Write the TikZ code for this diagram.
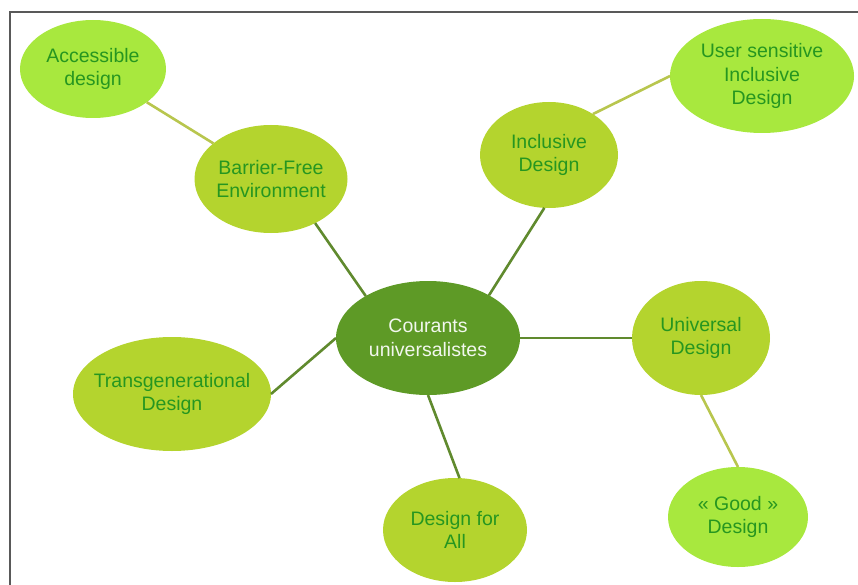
\documentclass[tikz,border=0pt]{standalone}
\usepackage{fontspec}
\setmainfont{Liberation Sans}
\usetikzlibrary{shapes.geometric}
\definecolor{leafgreen}{RGB}{168,232,62}
\definecolor{midgreen}{RGB}{180,212,46}
\definecolor{hubgreen}{RGB}{94,154,38}
\definecolor{labelgreen}{RGB}{38,150,32}
\definecolor{hubline}{RGB}{96,138,46}
\definecolor{leafline}{RGB}{184,198,78}
\tikzset{
    bubble/.style={ellipse, inner xsep=-30pt, inner ysep=0pt, outer sep=0pt, align=center, font=\fontsize{19.5}{23.5}\selectfont, text=labelgreen},
    hub/.style={bubble, fill=hubgreen, text=white!92!hubgreen, minimum width=184pt, minimum height=114pt},
    ring/.style={bubble, fill=midgreen},
    leaf/.style={bubble, fill=leafgreen},
    spoke/.style={line width=2.6pt, draw=hubline},
    twig/.style={line width=2.6pt, draw=leafline}
}
\begin{document}
\begin{tikzpicture}[x=1pt, y=-1pt]
  \useasboundingbox (0,0) rectangle (858,585);
  \draw[gray!70!black, line width=2pt] (10,585) -- (10,12) -- (858,12);
  \node[hub] (hub) at (428,338) {Courants\\universalistes};
  \node[ring, minimum width=153pt, minimum height=108pt] (barrier) at (271,179) {Barrier-Free\\Environment};
  \node[leaf, minimum width=146pt, minimum height=98pt] (access) at (93,69) {Accessible\\design};
  \node[ring, minimum width=138pt, minimum height=106pt] (incl) at (549,155) {Inclusive\\Design};
  \node[leaf, minimum width=184pt, minimum height=114pt] (user) at (762,76) {User sensitive\\Inclusive\\Design};
  \node[ring, minimum width=138pt, minimum height=114pt] (univ) at (701,338) {Universal\\Design};
  \node[leaf, minimum width=140pt, minimum height=100pt] (good) at (738,517) {« Good »\\Design};
  \node[ring, minimum width=144pt, minimum height=104pt] (dfa) at (455,530) {Design for\\All};
  \node[ring, minimum width=198pt, minimum height=114pt] (trans) at (172,394) {Transgenerational\\Design};
  \draw[twig] (access) -- (barrier);
  \draw[spoke] (barrier.-45) -- (hub.146);
  \draw[spoke] (hub.35) -- (incl.-95);
  \draw[twig] (incl.43) -- (user.west);
  \draw[spoke] (hub) -- (univ);
  \draw[twig] (univ.south) -- (good.north);
  \draw[spoke] (hub.south) -- (dfa.85);
  \draw[spoke] (trans.east) -- (hub.west);
\end{tikzpicture}
\end{document}
